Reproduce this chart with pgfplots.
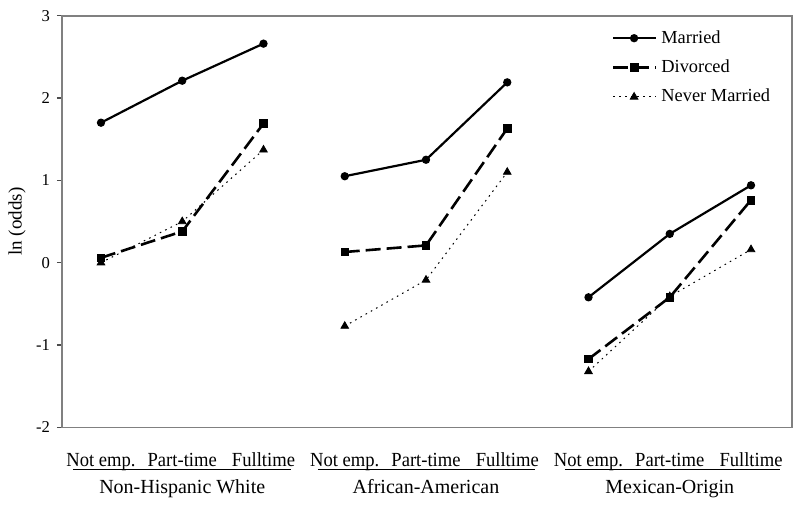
\documentclass[border=0pt]{standalone}
\usepackage{fontspec}
\setmainfont{Liberation Serif}
\newfontfamily\condfont{Liberation Serif}[FakeStretch=0.93]
\usepackage{pgfplots}
\pgfplotsset{compat=1.18}

\begin{document}
\begin{tikzpicture}[font=\fontsize{9.2}{11}\selectfont]
\begin{axis}[
    scale only axis,
    width=365pt, height=206pt,
    xmin=-0.48, xmax=8.5,
    ymin=-2, ymax=3,
    ytick={-2,-1,0,1,2,3},
    ytick pos=left,
    yticklabel style={font=\fontsize{8.3}{10}\selectfont},
    xtick={0,1,2,3,4,5,6,7,8},
    xticklabels={Not emp., Part-time, Fulltime, Not emp., Part-time, Fulltime, Not emp., Part-time, Fulltime},
    xticklabel style={anchor=base, yshift=-17pt, font=\fontsize{10}{12}\condfont},
    x tick style={draw=none},
    y tick style={black!70, line width=0.6pt},
    tick align=outside,
    major tick length=2.5pt,
    axis line style={gray, line width=0.9pt},
    /pgf/number format/assume math mode=true,
    ylabel={ln (odds)},
    ylabel style={at={(axis description cs:-0.0616,0.5)}, anchor=center, font=\fontsize{9.5}{11}\selectfont},
    unbounded coords=jump,
    clip=false,
    legend style={draw=none, fill=none, at={(0.753,0.975)}, anchor=north west,
        inner sep=0pt, row sep=2.8pt, font=\fontsize{9.2}{11}\selectfont},
    legend cell align=left,
    legend image code/.code={
        \draw[#1] (0pt,0pt) -- (21.5pt,0pt);
        \draw[#1, solid] plot coordinates {(10.5pt,0pt)};
    },
]
\addplot[black, line width=1.1pt, mark=*, mark size=1.5pt] coordinates {
    (0,1.70) (1,2.21) (2,2.66) (2.5,nan)
    (3,1.05) (4,1.25) (5,2.19) (5.5,nan)
    (6,-0.42) (7,0.35) (8,0.94)
};
\addlegendentry{Married}

\addplot[black, line width=1.3pt, dash pattern=on 7.5pt off 3pt, mark=square*, mark size=1.9pt,
    mark options={solid, line width=0.4pt}] coordinates {
    (0,0.06) (1,0.38) (2,1.69) (2.5,nan)
    (3,0.13) (4,0.21) (5,1.63) (5.5,nan)
    (6,-1.17) (7,-0.42) (8,0.76)
};
\addlegendentry{Divorced}

\addplot[black, line width=0.5pt, dash pattern=on 0.8pt off 2.2pt, mark=triangle*, mark size=2.2pt,
    mark options={solid, line width=0.4pt}] coordinates {
    (0,0.00) (1,0.50) (2,1.37) (2.5,nan)
    (3,-0.77) (4,-0.21) (5,1.10) (5.5,nan)
    (6,-1.32) (7,-0.41) (8,0.16)
};
\addlegendentry{Never Married}

% group underlines and labels
\draw[black, line width=0.7pt] (axis cs:-0.345,-2.512) -- (axis cs:2.34,-2.512);
\draw[black, line width=0.7pt] (axis cs:2.67,-2.512) -- (axis cs:5.34,-2.512);
\draw[black, line width=0.7pt] (axis cs:5.71,-2.512) -- (axis cs:8.36,-2.512);
\node[anchor=base, font=\fontsize{10}{12}\selectfont] at (axis cs:1,-2.803) {Non-Hispanic White};
\node[anchor=base, font=\fontsize{10}{12}\selectfont] at (axis cs:4,-2.803) {African-American};
\node[anchor=base, font=\fontsize{10}{12}\selectfont] at (axis cs:7,-2.803) {Mexican-Origin};
% page extent
\path (axis cs:-1.243,3.19) rectangle (axis cs:8.603,-2.937);
\end{axis}
\end{tikzpicture}
\end{document}
